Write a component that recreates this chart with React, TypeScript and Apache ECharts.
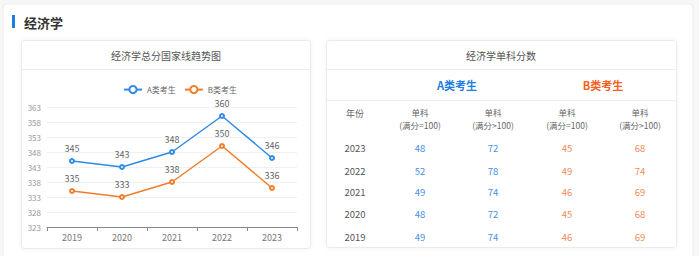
import React, { useEffect, useRef } from "react";
import * as echarts from "echarts";

const years = ["2019", "2020", "2021", "2022", "2023"];
const aScores = [345, 343, 348, 360, 346];
const bScores = [335, 333, 338, 350, 336];
const seriesNames = ["A类考生", "B类考生"];

const tableYears = ["2023", "2022", "2021", "2020", "2019"];
const aSingle100 = [48, 52, 49, 48, 49];
const aSingleOver = [72, 78, 74, 72, 74];
const bSingle100 = [45, 49, 46, 45, 46];
const bSingleOver = [68, 74, 69, 68, 69];
const colHeads = ["(满分=100)", "(满分>100)", "(满分=100)", "(满分>100)"];

const BLUE = "#2f8be6";
const ORANGE = "#f07d2c";
const TBL_BLUE = "#4a92e4";
const TBL_ORANGE = "#f08c5a";
const FONT = "'Noto Sans CJK SC', 'Noto Sans', sans-serif";

export default function App() {
  const ref = useRef<HTMLDivElement>(null);
  useEffect(() => {
    document.body.style.margin = "0";
    const chart = echarts.init(ref.current!, null, { renderer: "svg" });
    const colX = [420, 493, 567, 640];
    const rowY = [148, 171, 192, 214, 237];
    const cols = [aSingle100, aSingleOver, bSingle100, bSingleOver];
    const colColors = [TBL_BLUE, TBL_BLUE, TBL_ORANGE, TBL_ORANGE];

    const txt = (x: number, y: number, text: string, fill: string, fontSize: number, extra: any = {}) => ({
      type: "text",
      x,
      y,
      silent: true,
      style: { text, fill, fontSize, fontFamily: FONT, align: "center", verticalAlign: "middle", ...extra },
    });

    const tableTexts: any[] = [];
    tableTexts.push(txt(355, 113, "年份", "#666", 9));
    colX.forEach((x, i) => {
      tableTexts.push(txt(x, 112, "单科", "#666", 8.5));
      tableTexts.push(txt(x, 125, colHeads[i], "#666", 8.5));
    });
    tableYears.forEach((y, r) => {
      tableTexts.push(txt(355, rowY[r], y, "#555", 9.5));
      cols.forEach((c, i) => {
        tableTexts.push(txt(colX[i], rowY[r], String(c[r]), colColors[i], 9.5));
      });
    });

    chart.setOption({
      animation: false,
      backgroundColor: "#f7f7f7",
      graphic: [
        {
          type: "rect",
          z: -10,
          silent: true,
          shape: { x: 3, y: 4, width: 690, height: 262, r: 4 },
          style: { fill: "#fff", stroke: "#ececec", lineWidth: 1 },
        },
        {
          type: "rect",
          silent: true,
          z: -9,
          shape: { x: 12, y: 15, width: 3, height: 13 },
          style: { fill: "#1a7fe0" },
        },
        txt(24, 22, "经济学", "#333", 13, { align: "left", fontWeight: "bold" }),
        {
          type: "rect",
          z: -9,
          silent: true,
          shape: { x: 21.5, y: 40.5, width: 289, height: 208, r: 3 },
          style: { fill: "#fff", stroke: "#ebebeb", lineWidth: 1, shadowBlur: 4, shadowColor: "rgba(0,0,0,0.06)" },
        },
        {
          type: "line",
          silent: true,
          shape: { x1: 22, y1: 69.5, x2: 310, y2: 69.5 },
          style: { stroke: "#ededed", lineWidth: 1 },
        },
        txt(166, 55, "经济学总分国家线趋势图", "#555", 10),
        {
          type: "rect",
          z: -9,
          silent: true,
          shape: { x: 326.5, y: 40.5, width: 350, height: 207, r: 3 },
          style: { fill: "#fff", stroke: "#ebebeb", lineWidth: 1, shadowBlur: 4, shadowColor: "rgba(0,0,0,0.06)" },
        },
        {
          type: "line",
          silent: true,
          shape: { x1: 327, y1: 69.5, x2: 676, y2: 69.5 },
          style: { stroke: "#ededed", lineWidth: 1 },
        },
        {
          type: "line",
          silent: true,
          shape: { x1: 327, y1: 100.5, x2: 676, y2: 100.5 },
          style: { stroke: "#ededed", lineWidth: 1 },
        },
        txt(501, 55, "经济学单科分数", "#555", 10),
        txt(457, 85, seriesNames[0], "#1f7ce0", 11, { fontWeight: "bold" }),
        txt(603, 85, seriesNames[1], "#f4611c", 11, { fontWeight: "bold" }),
        ...tableTexts,
      ],
      legend: {
        top: 80,
        left: 118,
        itemWidth: 18,
        itemHeight: 9,
        itemGap: 8,
        textStyle: { fontSize: 8, color: "#666", fontFamily: FONT },
        data: seriesNames,
      },
      grid: { left: 47, right: 402, top: 107, bottom: 29, containLabel: false },
      xAxis: {
        type: "category",
        data: years,
        boundaryGap: true,
        axisLine: { lineStyle: { color: "#888" } },
        axisTick: { show: true, lineStyle: { color: "#888" }, length: 4 },
        axisLabel: { color: "#777", fontSize: 9, margin: 6, fontFamily: FONT },
      },
      yAxis: {
        type: "value",
        min: 323,
        max: 363,
        interval: 5,
        axisLine: { show: false },
        axisTick: { show: false },
        axisLabel: { color: "#999", fontSize: 8, margin: 6, fontFamily: FONT },
        splitLine: { lineStyle: { color: "#f0f0f0" } },
      },
      series: [
        {
          name: seriesNames[0],
          type: "line",
          data: aScores,
          color: BLUE,
          symbol: "emptyCircle",
          symbolSize: 4,
          lineStyle: { width: 1.5 },
          label: { show: true, position: "top", color: "#666", fontSize: 9, distance: 5, fontFamily: FONT },
        },
        {
          name: seriesNames[1],
          type: "line",
          data: bScores,
          color: ORANGE,
          symbol: "emptyCircle",
          symbolSize: 4,
          lineStyle: { width: 1.5 },
          label: { show: true, position: "top", color: "#666", fontSize: 9, distance: 5, fontFamily: FONT },
        },
      ],
    });
    return () => chart.dispose();
  }, []);
  return <div ref={ref} style={{ position: "fixed", left: 0, top: 0, width: 699, height: 256 }} />;
}
